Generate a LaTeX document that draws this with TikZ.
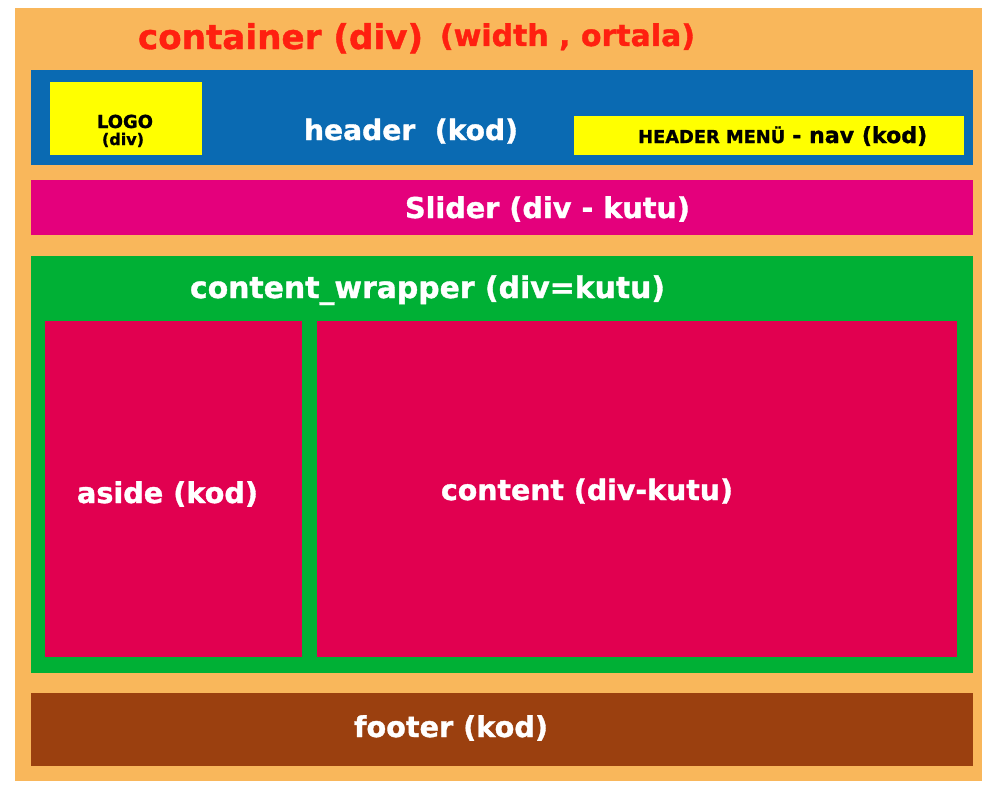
\documentclass[tikz,border=0pt]{standalone}
\usepackage{fontspec}
\setmainfont{DejaVu Sans}[BoldFeatures={FakeBold=1.2}]
\definecolor{cOrange}{RGB}{249,183,91}
\definecolor{cBlue}{RGB}{10,106,178}
\definecolor{cYellow}{RGB}{255,255,0}
\definecolor{cMagenta}{RGB}{228,0,124}
\definecolor{cGreen}{RGB}{0,176,53}
\definecolor{cRed}{RGB}{225,0,80}
\definecolor{cBrown}{RGB}{155,64,15}
\definecolor{cTitle}{RGB}{255,32,16}
\tikzset{
  lbl/.style={inner sep=0pt, anchor=base, font=\bfseries},
  wlbl/.style={lbl, text=white},
  blbl/.style={lbl, text=black},
}
\newcommand{\fitw}[2]{\resizebox{#1pt}{!}{#2}}
\begin{document}
\begin{tikzpicture}[x=1pt,y=-1pt]
\useasboundingbox (0,0) rectangle (998,800);
\fill[white] (0,0) rectangle (998,800);
% boxes
\fill[cOrange] (15,8) rectangle (982,781);
\fill[cBlue] (31,70) rectangle (973,165);
\fill[cYellow] (50,82) rectangle (202,155);
\fill[cYellow] (574,116) rectangle (964,155);
\fill[cMagenta] (31,180) rectangle (973,235);
\fill[cGreen] (31,256) rectangle (973,673);
\fill[cRed] (45,321) rectangle (302,657);
\fill[cRed] (317,321) rectangle (957,657);
\fill[cBrown] (31,693) rectangle (973,766);
% texts
\node[lbl, text=cTitle] (title1) at (280.5,49) {\fitw{285}{container (div)}};
\node[lbl, text=cTitle] (title2) at (567.5,46) {\fitw{255}{(width , ortala)}};
\node[blbl] (logo) at (125,128) {\fitw{56}{LOGO}};
\node[blbl] (logodiv) at (123,145) {\fitw{42}{(div)}};
\node[wlbl] (header) at (411,140) {\fitw{214}{header\ \ (kod)}};
\node[blbl, anchor=base west] (navA) at (638,143) {\fitw{147}{HEADER MENÜ}};
\node[blbl, anchor=base west] (navB) at (792,143) {\fitw{135}{- nav (kod)}};
\node[wlbl] (slider) at (547.5,218) {\fitw{285}{Slider (div - kutu)}};
\node[wlbl] (wrapper) at (427.5,298) {\fitw{475}{content\_wrapper (div=kutu)}};
\node[wlbl] (aside) at (167.5,503) {\fitw{181}{aside (kod)}};
\node[wlbl] (content) at (587,500) {\fitw{292}{content (div-kutu)}};
\node[wlbl] (footer) at (451,737) {\fitw{194}{footer (kod)}};
\end{tikzpicture}
\end{document}
